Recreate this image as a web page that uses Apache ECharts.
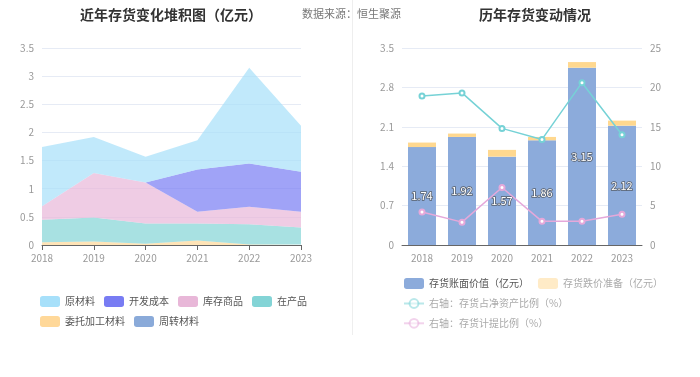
<!DOCTYPE html>
<html>
<head>
<meta charset="utf-8">
<script src="https://cdn.jsdelivr.net/npm/echarts@6/dist/echarts.min.js"></script>
<style>
  html, body { margin: 0; padding: 0; background: #fff; }
  #chart { width: 700px; height: 377px; }
</style>
</head>
<body>
<div id="chart"></div>
<script>
const years = ["2018", "2019", "2020", "2021", "2022", "2023"];

// left: stacked inventory composition (亿元)
const rawMaterial = [1.05, 0.64, 0.46, 0.52, 1.70, 0.82];
const devCost = [0, 0, 0, 0.75, 0.77, 0.71];
const goods = [0.24, 0.79, 0.73, 0.21, 0.31, 0.28];
const wip = [0.40, 0.43, 0.36, 0.30, 0.36, 0.30];
const consigned = [0.05, 0.06, 0.02, 0.08, 0.01, 0.01];
const turnover = [0, 0, 0, 0, 0, 0];

// right: book value, impairment, ratios
const bookValue = [1.74, 1.92, 1.57, 1.86, 3.15, 2.12];
const impairment = [0.08, 0.06, 0.12, 0.06, 0.10, 0.09];
const ratioNetAssets = [18.9, 19.3, 14.8, 13.4, 20.6, 14.0];
const provisionRatio = [4.2, 2.9, 7.3, 3.0, 3.0, 3.9];

const font = "Noto Sans CJK SC";
const dom = document.getElementById("chart");
const myChart = echarts.init(dom);

function areaSeries(name, data, color) {
  return {
    name: name,
    type: "line",
    stack: "total",
    data: data,
    xAxisIndex: 0,
    yAxisIndex: 0,
    showSymbol: false,
    symbol: "none",
    color: color,
    lineStyle: { width: 0 },
    areaStyle: { color: color, opacity: 0.7 },
  };
}

const axisLabel = { color: "#999", fontSize: 10, fontFamily: font };
const splitLine = { lineStyle: { color: "#e6ebf5" } };

const option = {
  animation: false,
  textStyle: { fontFamily: font },
  title: [
    {
      text: "近年存货变化堆积图（亿元）",
      left: 166,
      textAlign: "center",
      top: 3,
      textStyle: { fontSize: 14, fontWeight: "bold", color: "#333", fontFamily: font },
    },
    {
      text: "数据来源：恒生聚源",
      left: 297,
      top: 3,
      textStyle: { fontSize: 11, fontWeight: "normal", color: "#777", fontFamily: font },
    },
    {
      text: "历年存货变动情况",
      left: 530,
      textAlign: "center",
      top: 3,
      textStyle: { fontSize: 14, fontWeight: "bold", color: "#333", fontFamily: font },
    },
  ],
  graphic: [
    {
      type: "line",
      shape: { x1: 352.5, y1: 0, x2: 352.5, y2: 335 },
      style: { stroke: "#eeeeee", lineWidth: 1 },
    },
  ],
  legend: [
    {
      left: 40,
      top: 296,
      width: 290,
      padding: 0,
      itemWidth: 20,
      itemHeight: 11,
      itemGap: 9,
      icon: "roundRect",
      textStyle: { fontSize: 10, color: "#555", fontFamily: font },
      data: ["原材料", "开发成本", "库存商品", "在产品", "委托加工材料", "周转材料"],
    },
    {
      left: 403,
      top: 278,
      width: 270,
      padding: 0,
      itemWidth: 20,
      itemHeight: 11,
      itemGap: 9,
      textStyle: { fontSize: 10, color: "#555", fontFamily: font },
      data: [
        { name: "存货账面价值（亿元）", icon: "roundRect" },
        {
          name: "存货跌价准备（亿元）",
          icon: "roundRect",
          itemStyle: { opacity: 0.5 },
          textStyle: { color: "#aaa" },
        },
        {
          name: "右轴：存货占净资产比例（%）",
          itemStyle: { opacity: 0.5 },
          lineStyle: { opacity: 0.5 },
          textStyle: { color: "#aaa" },
        },
        {
          name: "右轴：存货计提比例（%）",
          itemStyle: { opacity: 0.5 },
          lineStyle: { opacity: 0.5 },
          textStyle: { color: "#aaa" },
        },
      ],
    },
  ],
  grid: [
    { left: 42, right: 399, top: 48, bottom: 132 },
    { left: 402, right: 58, top: 48, bottom: 132 },
  ],
  xAxis: [
    {
      type: "category",
      gridIndex: 0,
      data: years,
      boundaryGap: false,
      axisLine: { lineStyle: { color: "#666" } },
      axisTick: { lineStyle: { color: "#666" } },
      axisLabel: axisLabel,
    },
    {
      type: "category",
      gridIndex: 1,
      data: years,
      axisLine: { lineStyle: { color: "#666" } },
      axisTick: { alignWithLabel: true, lineStyle: { color: "#666" } },
      axisLabel: axisLabel,
    },
  ],
  yAxis: [
    {
      type: "value",
      gridIndex: 0,
      min: 0,
      max: 3.5,
      interval: 0.5,
      axisLabel: axisLabel,
      splitLine: splitLine,
    },
    {
      type: "value",
      gridIndex: 1,
      min: 0,
      max: 3.5,
      interval: 0.7,
      axisLabel: axisLabel,
      splitLine: splitLine,
    },
    {
      type: "value",
      gridIndex: 1,
      position: "right",
      min: 0,
      max: 25,
      interval: 5,
      axisLabel: axisLabel,
      splitLine: { show: false },
    },
  ],
  series: [
    areaSeries("委托加工材料", consigned, "#ffd899"),
    areaSeries("周转材料", turnover, "#8aaad9"),
    areaSeries("在产品", wip, "#83d4d6"),
    areaSeries("库存商品", goods, "#e8b7d8"),
    areaSeries("开发成本", devCost, "#787cf3"),
    areaSeries("原材料", rawMaterial, "#a7e0fa"),
    {
      name: "存货账面价值（亿元）",
      type: "bar",
      stack: "bar",
      xAxisIndex: 1,
      yAxisIndex: 1,
      barWidth: 28,
      data: bookValue,
      color: "#8cabdb",
      label: {
        show: true,
        position: "inside",
        color: "#fff",
        fontSize: 11,
        fontFamily: font,
        textBorderColor: "rgba(70,70,70,0.75)",
        textBorderWidth: 1.5,
      },
    },
    {
      name: "存货跌价准备（亿元）",
      type: "bar",
      stack: "bar",
      xAxisIndex: 1,
      yAxisIndex: 1,
      barWidth: 28,
      data: impairment,
      color: "#ffd88f",
    },
    {
      name: "右轴：存货占净资产比例（%）",
      type: "line",
      xAxisIndex: 1,
      yAxisIndex: 2,
      data: ratioNetAssets,
      color: "#76d2d6",
      symbol: "emptyCircle",
      symbolSize: 5,
      lineStyle: { width: 1.5 },
    },
    {
      name: "右轴：存货计提比例（%）",
      type: "line",
      xAxisIndex: 1,
      yAxisIndex: 2,
      data: provisionRatio,
      color: "#e5a8da",
      symbol: "emptyCircle",
      symbolSize: 5,
      lineStyle: { width: 1.5 },
    },
  ],
};

myChart.setOption(option);
</script>
</body>
</html>
